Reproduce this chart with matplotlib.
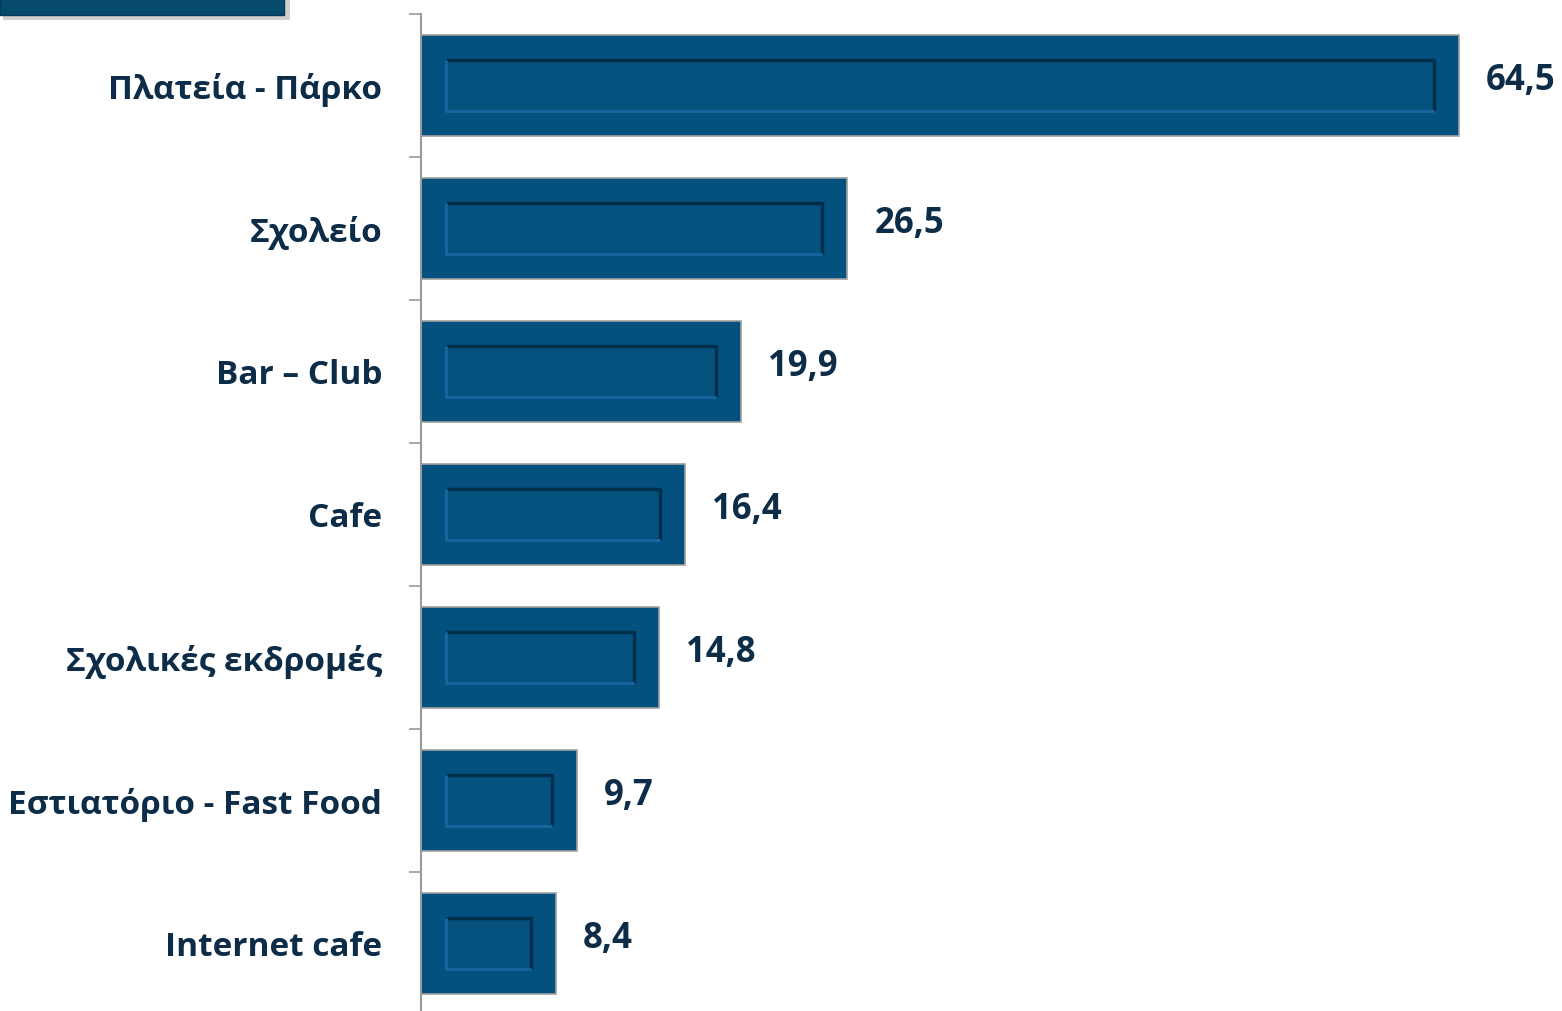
import matplotlib.pyplot as plt
from matplotlib.patches import Rectangle

# Δεδομένα του γραφήματος
categories = ["Πλατεία - Πάρκο", "Σχολείο", "Bar – Club", "Cafe",
              "Σχολικές εκδρομές", "Εστιατόριο - Fast Food", "Internet cafe"]
values = [64.5, 26.5, 19.9, 16.4, 14.8, 9.7, 8.4]
value_labels = ["64,5", "26,5", "19,9", "16,4", "14,8", "9,7", "8,4"]

bar_color = "#04507F"
text_color = "#0C2C47"
plt.rcParams['font.family'] = ['Open Sans', 'DejaVu Sans']

fig = plt.figure(figsize=(15.62, 10.11), dpi=100)
ax = fig.add_axes([421 / 1562, -4 / 1011, 1 - 421 / 1562, 1001 / 1011])

ypos = list(range(len(categories)))
ax.barh(ypos, values, height=0.7, color=bar_color, edgecolor="#a0a0a0", linewidth=1.2, zorder=2)

# efecto "bisel" interior de cada barra
px = 70.9 / (1562 - 421)  # unidades de datos por pixel
for y, v in zip(ypos, values):
    x0, x1 = 25 * px, v - 25 * px
    y0, y1 = y - 0.175, y + 0.175
    ax.add_patch(Rectangle((x0, y0), x1 - x0, y1 - y0, facecolor="#05527F", edgecolor="none", zorder=3))
    ax.plot([x0, x1, x1], [y0, y0, y1], color="#022f4c", lw=2.5, zorder=4, solid_capstyle="butt")
    ax.plot([x0, x0, x1], [y0, y1, y1], color="#1766a0", lw=2.0, zorder=4, solid_capstyle="butt")
    ax.text(v + 27 * px, y - 0.03, value_labels[y], ha="left", va="center",
            fontsize=25, fontweight="bold", color=text_color)

ax.set_xlim(0, 70.9)
ax.set_ylim(len(categories) - 0.5, -0.5)
ax.set_yticks(ypos)
ax.set_yticklabels(categories, fontsize=24, fontweight="bold", color=text_color)
ax.tick_params(axis="y", which="major", length=0, pad=28)
ax.set_yticks([i - 0.5 for i in range(len(categories) + 1)], minor=True)
ax.tick_params(axis="y", which="minor", length=9, width=1.2, color="#9a9a9a", direction="out")
ax.set_xticks([])
for s in ["top", "right", "bottom"]:
    ax.spines[s].set_visible(False)
ax.spines["left"].set_color("#9a9a9a")
ax.spines["left"].set_linewidth(1.5)

# recuadro superior izquierdo (cortado)
fig.patches.append(Rectangle((0.002, 1 - 20 / 1011), 287 / 1562, 30 / 1011, transform=fig.transFigure,
                             facecolor="#b0b0b0", edgecolor="none", alpha=0.6, zorder=0))
fig.patches.append(Rectangle((0, 1 - 15 / 1011), 284 / 1562, 30 / 1011, transform=fig.transFigure,
                             facecolor="#064A6E", edgecolor="#043a57", lw=1, zorder=1))

fig.savefig("out.png", dpi=100)
